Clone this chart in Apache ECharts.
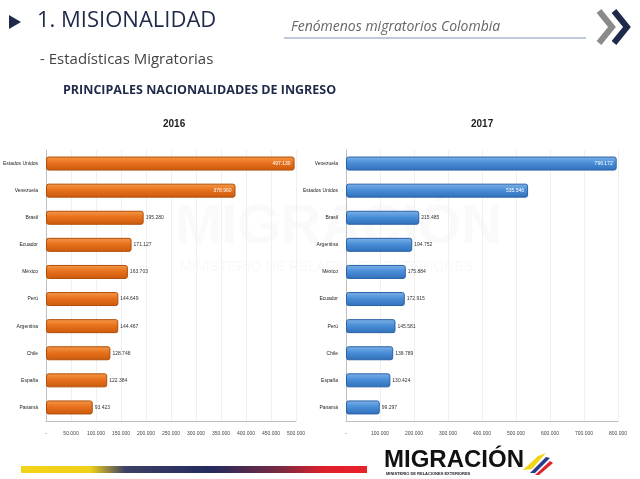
<!DOCTYPE html>
<html>
<head>
<meta charset="utf-8">
<script src="https://cdn.jsdelivr.net/npm/echarts@6/dist/echarts.min.js"></script>
<style>
  html, body { margin: 0; padding: 0; background: #fff; }
  #main { width: 640px; height: 479px; }
</style>
</head>
<body>
<div id="main"></div>
<script>
// datos
var paises2016 = ['Estados Unidos', 'Venezuela', 'Brasil', 'Ecuador', 'México', 'Perú', 'Argentina', 'Chile', 'España', 'Panamá'];
var valores2016 = [497130, 378960, 195280, 171127, 163703, 144649, 144467, 128748, 122384, 93423];
var paises2017 = ['Venezuela', 'Estados Unidos', 'Brasil', 'Argentina', 'México', 'Ecuador', 'Perú', 'Chile', 'España', 'Panamá'];
var valores2017 = [796172, 535546, 215485, 194752, 175884, 172915, 145581, 138789, 130424, 99297];
var ticks2016 = [0, 50000, 100000, 150000, 200000, 250000, 300000, 350000, 400000, 450000, 500000];
var ticks2017 = [0, 100000, 200000, 300000, 400000, 500000, 600000, 700000, 800000];

function fmt(v) {
  if (v === 0) return '-';
  return String(v).replace(/\B(?=(\d{3})+(?!\d))/g, '.');
}

function barData(vals) {
  return vals.map(function (v, i) {
    var inside = i < 2;
    return {
      value: v,
      label: {
        position: inside ? 'insideRight' : 'right',
        color: inside ? '#fff' : '#333',
        distance: inside ? 4 : 2
      }
    };
  });
}

var chart = echarts.init(document.getElementById('main'));

var orange = new echarts.graphic.LinearGradient(0, 0, 0, 1, [
  { offset: 0, color: '#f59a4a' }, { offset: 0.45, color: '#e8711c' }, { offset: 1, color: '#c95a0c' }
]);
var blue = new echarts.graphic.LinearGradient(0, 0, 0, 1, [
  { offset: 0, color: '#7fb2e8' }, { offset: 0.45, color: '#4a8fd8' }, { offset: 1, color: '#2f6fb8' }
]);

function xAxisFor(grid, ticks) {
  return {
    type: 'value', gridIndex: grid, min: ticks[0], max: ticks[ticks.length - 1], interval: ticks[1] - ticks[0],
    axisLine: { show: true, lineStyle: { color: '#bfbfbf' } },
    axisTick: { show: false },
    splitLine: { show: true, lineStyle: { color: '#f0f0f0' } },
    axisLabel: { fontSize: 5, color: '#444', margin: 10, formatter: fmt }
  };
}
function yAxisFor(grid, cats) {
  return {
    type: 'category', gridIndex: grid, data: cats, inverse: true,
    axisLine: { show: true, lineStyle: { color: '#bfbfbf' } },
    axisTick: { show: false },
    axisLabel: { fontSize: 5, color: '#222', margin: 8 }
  };
}

chart.setOption({
  animation: false,
  title: [
    { text: '2016', left: 158, top: 114, textStyle: { fontSize: 10, fontWeight: 'bold', color: '#222', fontFamily: 'Liberation Sans Narrow, Liberation Sans' } },
    { text: '2017', left: 466, top: 114, textStyle: { fontSize: 10, fontWeight: 'bold', color: '#222', fontFamily: 'Liberation Sans Narrow, Liberation Sans' } }
  ],
  grid: [
    { left: 46, width: 250, top: 150, height: 271 },
    { left: 346, width: 272, top: 150, height: 271 }
  ],
  xAxis: [xAxisFor(0, ticks2016), xAxisFor(1, ticks2017)],
  yAxis: [yAxisFor(0, paises2016), yAxisFor(1, paises2017)],
  series: [
    {
      type: 'bar', xAxisIndex: 0, yAxisIndex: 0, barWidth: 14,
      data: barData(valores2016),
      itemStyle: { color: orange, borderColor: '#b04e08', borderWidth: 1, borderRadius: 2 },
      label: { show: true, fontSize: 5, formatter: function (p) { return fmt(p.value); } }
    },
    {
      type: 'bar', xAxisIndex: 1, yAxisIndex: 1, barWidth: 14,
      data: barData(valores2017),
      itemStyle: { color: blue, borderColor: '#2a62a8', borderWidth: 1, borderRadius: 2 },
      label: { show: true, fontSize: 5, formatter: function (p) { return fmt(p.value); } }
    }
  ],
  graphic: [
    // marca de agua
    { type: 'text', left: 175, top: 200, z: -1, style: { text: 'MIGRACIÓN', fontSize: 56, fontWeight: 'bold', fill: 'rgba(120,120,120,0.04)', fontFamily: 'Liberation Sans' } },
    { type: 'text', left: 180, top: 260, z: -1, style: { text: 'MINISTERIO DE RELACIONES EXTERIORES', fontSize: 14, fill: 'rgba(120,120,120,0.05)', fontFamily: 'Liberation Sans' } },
    // encabezado
    { type: 'polygon', shape: { points: [[9, 15], [21, 22], [9, 29]] }, style: { fill: '#1f2a4a' } },
    { type: 'text', left: 37, top: 10, style: { text: '1. MISIONALIDAD', fontSize: 22, fill: '#1f2a4a', fontFamily: 'Open Sans' } },
    { type: 'text', left: 291, top: 20, style: { text: 'Fenómenos migratorios Colombia', fontSize: 14, fontStyle: 'italic', fill: '#666', fontFamily: 'Open Sans' } },
    { type: 'line', shape: { x1: 284, y1: 38, x2: 586, y2: 38 }, style: { stroke: '#7f93b3', lineWidth: 1 } },
    { type: 'polyline', shape: { points: [[599, 11], [612, 27], [599, 43]] }, style: { stroke: '#8a8a8a', lineWidth: 6, fill: null } },
    { type: 'polyline', shape: { points: [[614, 11], [627, 27], [614, 43]] }, style: { stroke: '#1f2a4a', lineWidth: 6, fill: null } },
    { type: 'text', left: 40, top: 52, style: { text: '- Estadísticas Migratorias', fontSize: 15, fill: '#444', fontFamily: 'Open Sans' } },
    { type: 'text', left: 63, top: 84, style: { text: 'PRINCIPALES NACIONALIDADES DE INGRESO', fontSize: 12.5, fontWeight: 'bold', fill: '#1f2a4a', fontFamily: 'Open Sans' } },
    // pie de pagina
    {
      type: 'rect', shape: { x: 21, y: 466, width: 346, height: 7 },
      style: {
        fill: new echarts.graphic.LinearGradient(0, 0, 1, 0, [
          { offset: 0, color: '#f2d417' }, { offset: 0.2, color: '#f0cf1a' }, { offset: 0.3, color: '#3d4166' },
          { offset: 0.55, color: '#232a5e' }, { offset: 0.75, color: '#7a2a40' }, { offset: 0.88, color: '#e0202a' }, { offset: 1, color: '#e8202a' }
        ])
      }
    },
    { type: 'text', left: 384, top: 448, style: { text: 'MIGRACIÓN', fontSize: 24, fontWeight: 'bold', fill: '#111', fontFamily: 'Liberation Sans Narrow, Liberation Sans' } },
    { type: 'text', left: 386, top: 472, style: { text: 'MINISTERIO DE RELACIONES EXTERIORES', fontSize: 4, fontWeight: 'bold', fill: '#222', fontFamily: 'Liberation Sans' } },
    { type: 'polygon', shape: { points: [[523, 470], [538, 456], [546, 453], [532, 469]] }, style: { fill: '#f2d417' } },
    { type: 'polygon', shape: { points: [[530, 473], [546, 457], [550, 458], [535, 473]] }, style: { fill: '#2a3a8a' } },
    { type: 'polygon', shape: { points: [[535, 475], [550, 461], [553, 463], [539, 475]] }, style: { fill: '#e0202a' } }
  ]
});
</script>
</body>
</html>
